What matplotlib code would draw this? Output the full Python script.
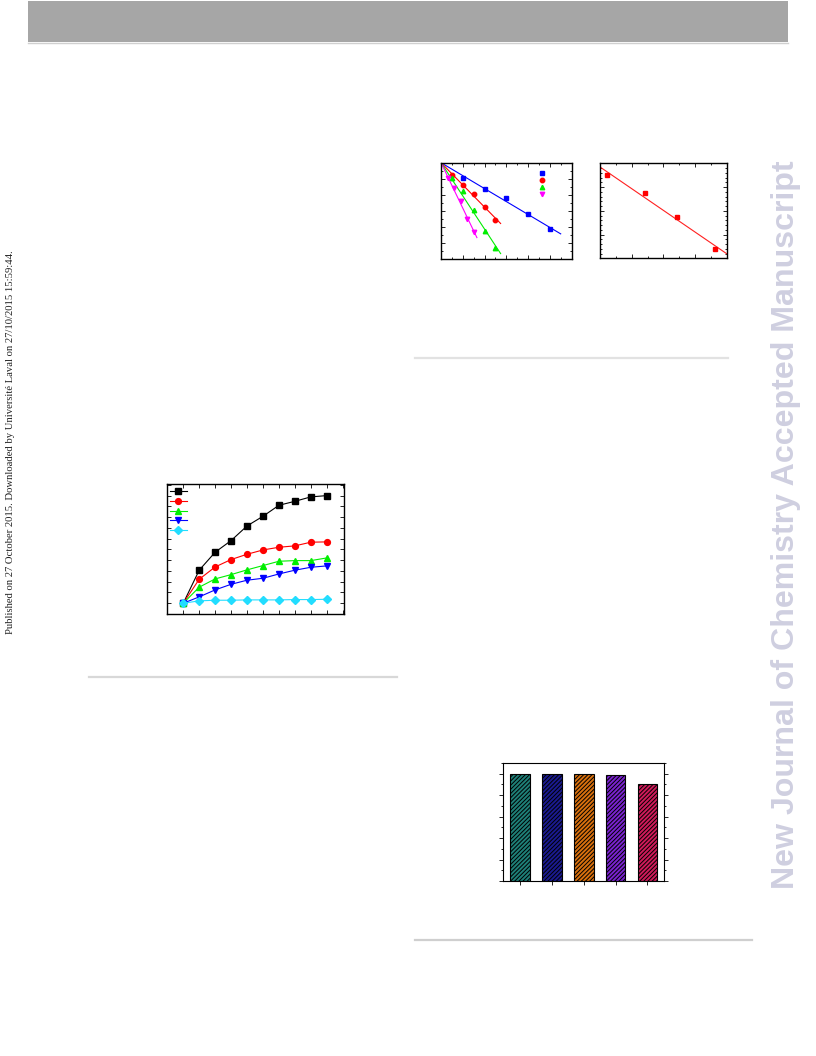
import numpy as np
import matplotlib
matplotlib.use("Agg")
import matplotlib.pyplot as plt
from matplotlib.patches import Rectangle
from matplotlib.lines import Line2D

W, H = 816, 1056

# ---- kinetics plot (ln(C/C0) vs time) ----
kin_labels = ["a", "b", "c", "d"]
kin_colors = ["#0000ff", "#ff0000", "#00ee00", "#ff00ff"]
kin_markers = ["s", "o", "^", "v"]
kin_t = [[10, 20, 30, 40, 50],
         [5, 10, 15, 20, 25],
         [5, 10, 15, 20, 25],
         [3, 6, 9, 12, 15]]
kin_y = [[-0.46, -0.82, -1.11, -1.58, -2.07],
         [-0.38, -0.68, -0.96, -1.37, -1.77],
         [-0.46, -0.87, -1.47, -2.13, -2.64],
         [-0.46, -0.78, -1.18, -1.75, -2.14]]
kin_fit_end = [55, 27.4, 27.4, 16.5]

# ---- Arrhenius plot ----
arr_x = [3.021, 3.142, 3.242, 3.364]
arr_y = [-3.25, -3.63, -4.14, -4.80]

# ---- removal vs time ----
rem_t = [0, 10, 20, 30, 40, 50, 60, 70, 80, 90]
rem_series = [
    [0, 30.7, 47.4, 58.2, 71.8, 80.8, 91.0, 94.7, 98.8, 100.0],
    [0, 22.3, 33.7, 40.6, 45.5, 49.5, 52.0, 53.3, 56.7, 57.0],
    [0, 14.9, 22.6, 26.6, 31.0, 35.0, 39.0, 39.6, 39.6, 42.1],
    [0, 5.9, 12.4, 17.6, 21.4, 23.2, 27.2, 30.7, 33.4, 34.7],
    [0, 2.2, 2.8, 2.8, 3.1, 3.1, 3.1, 3.4, 3.4, 3.7],
]
rem_colors = ["#000000", "#ff0000", "#00ee00", "#0000ff", "#22ddff"]
rem_markers = ["s", "o", "^", "v", "D"]

# ---- reuse cycles ----
cycles = [1, 2, 3, 4, 5]
cycle_eff = [100.0, 100.0, 100.0, 99.0, 90.8]
cycle_colors = ["#1e8078", "#1a1a90", "#d8700e", "#7a22d0", "#d01a5a"]


def rect(x0, y0, x1, y1):
    return [x0 / W, 1 - y1 / H, (x1 - x0) / W, (y1 - y0) / H]


def style(ax, direction="in"):
    ax.tick_params(which="both", direction=direction, top=True, right=True,
                   labelbottom=False, labelleft=False, width=0.6)
    ax.tick_params(which="major", length=3)
    ax.tick_params(which="minor", length=1.5)
    for s in ax.spines.values():
        s.set_linewidth(1.0)


plt.rcParams["hatch.linewidth"] = 0.7
fig = plt.figure(figsize=(W / 100, H / 100), dpi=100)

# page decorations
bg = fig.add_axes([0, 0, 1, 1])
bg.set_xlim(0, W)
bg.set_ylim(H, 0)
bg.axis("off")
bg.add_patch(Rectangle((28, 1), 760, 41, color="#a6a6a6", lw=0))
bg.plot([28, 788], [42.5, 42.5], color="#d0d0d0", lw=1)
bg.plot([415, 728], [357.7, 357.7], color="#e2e2e2", lw=1.6)
bg.plot([89, 397], [676.7, 676.7], color="#d8d8d8", lw=1.6)
bg.plot([415, 752], [939.7, 939.7], color="#cfcfcf", lw=1.6)
bg.text(10.5, 442, "Published on 27 October 2015. Downloaded by Université Laval on 27/10/2015 15:59:44.",
        rotation=90, ha="center", va="center", fontsize=7.7, family="Liberation Serif", color="#222222")
bg.text(786, 525, "New Journal of Chemistry Accepted Manuscript", rotation=90,
        ha="center", va="center", fontsize=23.1, fontweight="bold",
        family="Liberation Sans", color="#cfcfe0")

# kinetics
ax1 = fig.add_axes(rect(441, 162.7, 572, 259.3))
for t, y, c, m, xe in zip(kin_t, kin_y, kin_colors, kin_markers, kin_fit_end):
    t = np.array(t, float)
    y = np.array(y, float)
    k = np.sum(t * y) / np.sum(t * t)
    ax1.plot([0, xe], [0, k * xe], color=c, lw=0.8)
    ax1.plot(t, y, m, color=c, ms=3.2, mec=c)
ax1.set_xlim(0, 60.2)
ax1.set_ylim(-3.0, 0)
ax1.set_xticks(np.arange(0, 61, 10))
ax1.set_xticks(np.arange(0, 61, 5), minor=True)
ax1.set_yticks(np.arange(-3.0, 0.01, 0.5))
ax1.set_yticks(np.arange(-3.0, 0.01, 0.25), minor=True)
style(ax1)
for i, (c, m) in enumerate(zip(kin_colors, kin_markers)):
    ax1.plot([0.771], [0.896 - 0.0747 * i], m, color=c, ms=3.2, transform=ax1.transAxes)

# Arrhenius
ax2 = fig.add_axes(rect(600, 163.3, 726.7, 258.3))
xlim2 = (3.0, 3.4)
b, a = np.polyfit(arr_x, arr_y, 1)
ax2.plot(xlim2, [a + b * xlim2[0], a + b * xlim2[1]], color="#ff2020", lw=0.8)
ax2.plot(arr_x, arr_y, "s", color="#ff0000", ms=3.2)
ax2.set_xlim(*xlim2)
ax2.set_ylim(-5.0, -3.0)
ax2.set_xticks(np.arange(3.0, 3.41, 0.1))
ax2.set_xticks(np.arange(3.0, 3.41, 0.05), minor=True)
ax2.set_yticks(np.arange(-5.0, -2.99, 0.5))
ax2.set_yticks(np.arange(-5.0, -2.99, 0.1), minor=True)
style(ax2)

# removal vs time
ax3 = fig.add_axes(rect(167.3, 484.3, 344.3, 614))
for y, c, m in zip(rem_series, rem_colors, rem_markers):
    ax3.plot(rem_t, y, "-", color=c, lw=0.8, marker=m, ms=4.2, mec=c)
for i, (c, m) in enumerate(zip(rem_colors, rem_markers)):
    yy = 0.948 - 0.0757 * i
    ax3.add_line(Line2D([0.015, 0.111], [yy, yy], color=c, lw=0.8, transform=ax3.transAxes))
    ax3.plot([0.062], [yy], m, color=c, ms=4.2, transform=ax3.transAxes)
ax3.set_xlim(-10, 101)
ax3.set_ylim(-10, 110.5)
ax3.set_xticks(np.arange(0, 101, 10))
ax3.set_yticks(np.arange(0, 111, 10))
style(ax3)

# reuse cycles
ax4 = fig.add_axes(rect(503.3, 763, 664, 881))
ax4.bar(cycles, cycle_eff, width=0.62, color=cycle_colors, edgecolor="black",
        hatch="////////", linewidth=0.8)
ax4.set_xlim(0.48, 5.52)
ax4.set_ylim(0, 110)
ax4.set_xticks(cycles)
ax4.set_yticks(np.arange(0, 101, 20))
ax4.set_yticks(np.arange(0, 111, 10), minor=True)
ax4.tick_params(which="both", direction="out", top=False, right=True,
                labelbottom=False, labelleft=False, width=0.6)
ax4.tick_params(which="major", length=3)
ax4.tick_params(which="minor", length=1.5)

fig.savefig("out.png", dpi=100)
